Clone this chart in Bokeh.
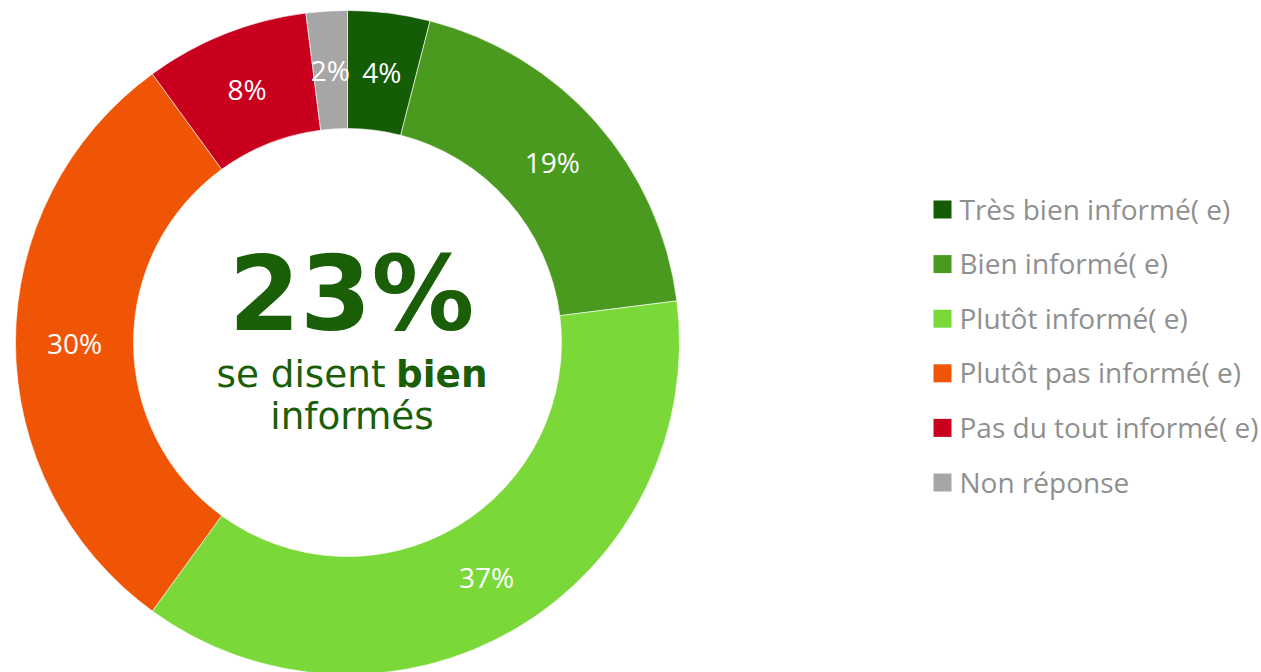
import math
from bokeh.plotting import figure
from bokeh.models import Range1d, ColumnDataSource
from bokeh.core.properties import value
from bokeh.embed import file_html
from bokeh.resources import INLINE

# ---- data ----
categories = ["Très bien informé( e)", "Bien informé( e)", "Plutôt informé( e)",
              "Plutôt pas informé( e)", "Pas du tout informé( e)", "Non réponse"]
values = [4, 19, 37, 30, 8, 2]
labels = ["4%", "19%", "37%", "30%", "8%", "2%"]
colors = ["#145C06", "#4A9A20", "#7AD838", "#F05405", "#C8001E", "#A6A6A6"]
headline = "23%"
subline_regular = "se disent "
subline_bold = "bien"
subline2 = "informés"

W, H = 1261, 672

def Y(img_y):
    return H - img_y

def X(img_x):
    return img_x

p = figure(width=W, height=H, output_backend="svg", toolbar_location=None,
           x_range=Range1d(0, W), y_range=Range1d(0, H), min_border=0)
p.axis.visible = False
p.grid.visible = False
p.outline_line_color = None
p.background_fill_color = "white"

cx, cy = X(347), Y(342)
r_in, r_out = 214, 332

total = float(sum(values))
starts, ends, lx, ly = [], [], [], []
cum = 0.0
for v in values:
    a0 = math.pi / 2 - 2 * math.pi * cum / total
    cum += v
    a1 = math.pi / 2 - 2 * math.pi * cum / total
    starts.append(a0)
    ends.append(a1)
    mid = (a0 + a1) / 2
    rm = (r_in + r_out) / 2
    lx.append(cx + rm * math.cos(mid))
    ly.append(cy + rm * math.sin(mid))

src = ColumnDataSource(dict(start=starts, end=ends, color=colors, lx=lx, ly=ly, label=labels))
p.annular_wedge(x=cx, y=cy, inner_radius=r_in, outer_radius=r_out,
                start_angle="start", end_angle="end", direction="clock",
                fill_color="color", line_color="white", line_width=0.6, source=src)

p.text(x="lx", y="ly", text="label", source=src, text_color="white",
       text_font=value("Open Sans"), text_font_size="28px",
       text_align="center", text_baseline="middle")

# legend
n = len(categories)
leg_y = [209 + i * 54.6 for i in range(n)]
leg_src = ColumnDataSource(dict(x=[X(942)] * n, y=[Y(v) for v in leg_y], color=colors,
                                tx=[X(959)] * n, ty=[Y(v - 1) for v in leg_y], name=categories))
p.rect(x="x", y="y", width=18, height=18, fill_color="color", line_color=None, source=leg_src)
p.text(x="tx", y="ty", text="name", source=leg_src,
       text_color="#8F8F8F", text_font=value("Open Sans"), text_font_size="28px",
       text_align="left", text_baseline="middle")

# center texts
green = "#1A5E08"
c_src = ColumnDataSource(dict(
    x=[X(216), X(351.5), X(487), X(351)],
    y=[Y(373), Y(415), Y(373), Y(294)],
    t=[subline_regular, subline2, subline_bold, headline],
    size=["28pt", "28pt", "28pt", "77pt"],
    style=["normal", "normal", "bold", "bold"],
    align=["left", "center", "right", "center"],
))
p.text(x="x", y="y", text="t", source=c_src, text_color=green,
       text_font=value("DejaVu Sans"), text_font_size="size", text_font_style="style",
       text_align="align", text_baseline="middle")

open("out.html", "w").write(file_html(p, INLINE))
